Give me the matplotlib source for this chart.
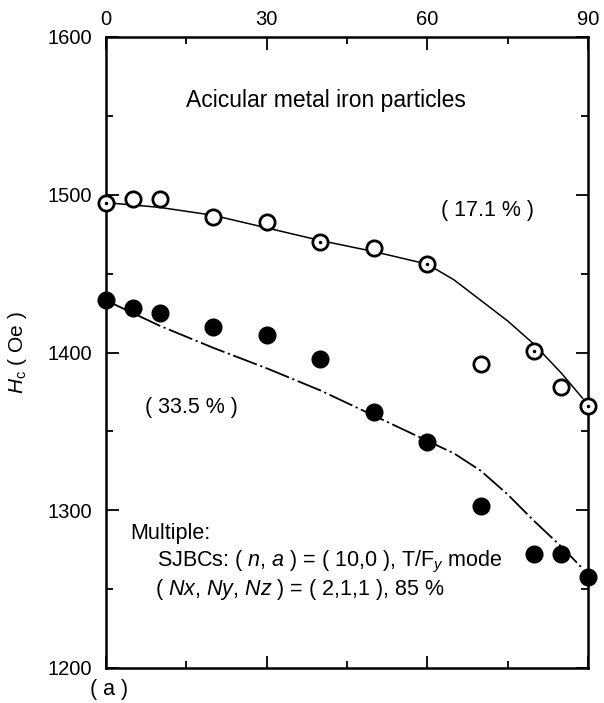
import matplotlib
matplotlib.use("Agg")
import matplotlib.pyplot as plt
from matplotlib.ticker import MultipleLocator, FixedLocator

plt.rcParams["font.family"] = ["Liberation Sans", "DejaVu Sans"]
plt.rcParams["mathtext.fontset"] = "custom"
plt.rcParams["mathtext.it"] = "Liberation Sans:italic"
plt.rcParams["mathtext.rm"] = "Liberation Sans"

# open circles (17.1 %)
angle_open = [0, 5, 10, 20, 30, 40, 50, 60, 70, 80, 85, 90]
hc_open = [1495, 1497, 1497, 1486, 1483, 1470, 1466, 1456, 1393, 1401, 1378, 1366]
dotted_open = [True, False, False, False, False, True, False, True, False, True, False, True]

# filled circles (33.5 %)
angle_fill = [0, 5, 10, 20, 30, 40, 50, 60, 70, 80, 85, 90]
hc_fill = [1433, 1428, 1425, 1416, 1411, 1396, 1362, 1343, 1303, 1272, 1272, 1258]

# calculated curves
angle_calc_open = [0, 10, 20, 30, 40, 50, 60, 65, 70, 75, 80, 85, 89]
hc_calc_open = [1495, 1492, 1487, 1479, 1471, 1464, 1456, 1446, 1433, 1420, 1405, 1387, 1371]
angle_calc_fill = [0, 10, 20, 30, 40, 50, 60, 65, 70, 75, 80, 85, 89]
hc_calc_fill = [1433, 1417, 1403, 1390, 1376, 1360, 1344, 1336, 1325, 1310, 1293, 1277, 1263]

fig = plt.figure(figsize=(6.04, 7.03), dpi=100)
ax = fig.add_axes([106 / 604, 1 - 668 / 703, (588 - 106) / 604, (668 - 37) / 703])

ax.plot(angle_calc_open, hc_calc_open, color="black", lw=1.1)
ax.plot(angle_calc_fill, hc_calc_fill, color="black", lw=1.3, dashes=(14, 2, 1.2, 2))

ax.plot(angle_fill, hc_fill, "o", ms=12, color="black", zorder=3, clip_on=False)
ax.plot(angle_open, hc_open, "o", ms=11, mfc="white", mec="black", mew=2.0, zorder=3,
        clip_on=False)
for a, h, d in zip(angle_open, hc_open, dotted_open):
    if d:
        ax.plot(a, h, ".", ms=3, color="black", zorder=4, clip_on=False)

ax.set_xlim(0, 90)
ax.set_ylim(1200, 1600)
ax.xaxis.set_major_locator(FixedLocator([0, 30, 60, 90]))
ax.xaxis.set_minor_locator(FixedLocator([15, 45, 75]))
ax.yaxis.set_major_locator(MultipleLocator(100))
ax.yaxis.set_minor_locator(MultipleLocator(50))
ax.tick_params(which="both", direction="in", top=True, bottom=True, left=True, right=True,
               labeltop=True, labelbottom=False, labelsize=14.5, width=1.3)
ax.tick_params(axis="y", pad=10)
ax.tick_params(axis="x", pad=6)
ax.tick_params(which="major", length=9)
ax.tick_params(which="minor", length=5)
for s in ax.spines.values():
    s.set_linewidth(1.8)

ax.set_ylabel(r"$H_{\mathrm{c}}$ ( Oe )", fontsize=15, labelpad=13)

fs = 15.5
ax.text(41, 1560, "Acicular metal iron particles", fontsize=16.5, ha="center", va="center")
ax.text(62.5, 1490, "( 17.1 % )", fontsize=fs, ha="left", va="center")
ax.text(7.3, 1365, "( 33.5 % )", fontsize=fs, ha="left", va="center")
ax.text(4.6, 1285, "Multiple:", fontsize=fs, ha="left", va="center")
ax.text(9.5, 1267, r"SJBCs: ( $n$, $a$ ) = ( 10,0 ), T/F$_y$ mode", fontsize=fs,
        ha="left", va="center")
ax.text(9.1, 1250, r"( $Nx$, $Ny$, $Nz$ ) = ( 2,1,1 ), 85 %", fontsize=fs,
        ha="left", va="center")
fig.text(90 / 604, 1 - 690 / 703, "( a )", fontsize=fs, ha="left", va="center")

fig.savefig("out.png", dpi=100)
